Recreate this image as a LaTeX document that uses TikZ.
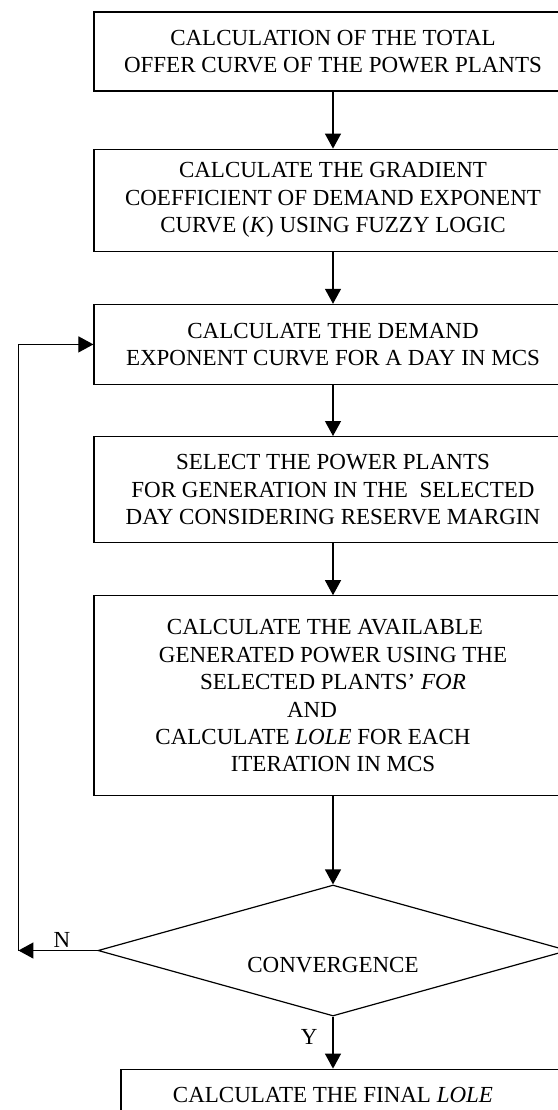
\documentclass[tikz,border=0pt]{standalone}
\usepackage{fontspec}
\setmainfont{Liberation Serif}
\usepackage{tikz}
\usetikzlibrary{arrows.meta,positioning,shapes.geometric}
\tikzset{
  box/.style={draw, line width=1.2bp, align=center, minimum width=478bp, inner sep=4bp, font=\fontsize{23bp}{27.4bp}\selectfont},
  dec/.style={draw, diamond, aspect=3.6, line width=1.2bp, minimum width=470bp, minimum height=131bp, inner sep=0pt, font=\fontsize{23bp}{27.4bp}\selectfont},
  arr/.style={-{Triangle[length=15bp,width=16bp]}, line width=1.2bp},
  lbl/.style={inner sep=2bp, font=\fontsize{23bp}{27.4bp}\selectfont},
}

\begin{document}
\begin{tikzpicture}[x=1bp, y=1bp, node distance=52bp]
\useasboundingbox (0,0) rectangle (558,-1110);
\node[box, minimum height=79bp] (offer) at (333,-51.5) {CALCULATION OF THE TOTAL\\OFFER CURVE OF THE POWER PLANTS};
\node[box, minimum height=102bp, below=57bp of offer] (grad) {CALCULATE THE GRADIENT\\COEFFICIENT OF DEMAND EXPONENT\\CURVE (\textit{K}) USING FUZZY LOGIC};
\node[box, minimum height=80bp, below=of grad] (demand) {CALCULATE THE DEMAND\\EXPONENT CURVE FOR A DAY IN MCS};
\node[box, minimum height=106bp, below=51bp of demand] (select) {SELECT THE POWER PLANTS\\FOR GENERATION IN THE~ SELECTED\\DAY CONSIDERING RESERVE MARGIN};
\node[box, minimum height=200bp, below=of select] (avail) {\hspace*{-16bp}CALCULATE THE AVAILABLE\\GENERATED POWER USING THE\\SELECTED PLANTS' \textit{FOR}\\\hspace*{-42bp}AND\\\hspace*{-40bp}CALCULATE \textit{LOLE} FOR EACH\\ITERATION IN MCS};
\node[dec, below=88bp of avail] (conv) {\raisebox{-14bp}[15bp][0bp]{CONVERGENCE}};
\node[box, minimum width=451bp, minimum height=52bp, below=of conv, xshift=13.5bp] (final) {\hspace*{-27bp}CALCULATE THE FINAL \textit{LOLE}};
\coordinate[left=79bp of conv.west] (back);
\draw[arr] (offer) -- (grad);
\draw[arr] (grad) -- (demand);
\draw[arr] (demand) -- (select);
\draw[arr] (select) -- (avail);
\draw[arr] (avail) -- (conv);
\draw[arr] (conv.south) -- node[lbl, left=13bp, pos=0.4]{Y} (conv.south |- final.north);
\draw[arr] (conv.west) -- node[lbl, above, pos=0.45]{N} (back);
\draw[arr] (back) |- (demand.west);
\end{tikzpicture}
\end{document}
